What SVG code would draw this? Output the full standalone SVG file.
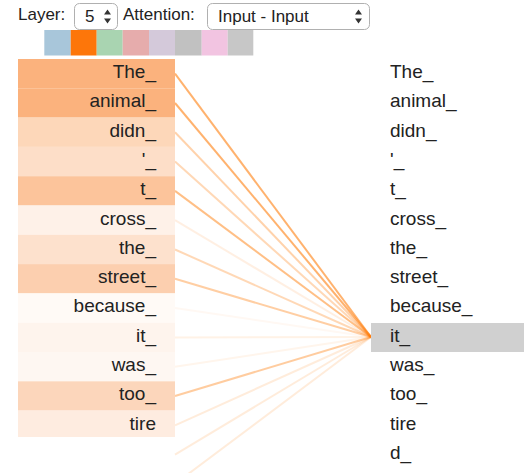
<svg xmlns="http://www.w3.org/2000/svg" width="524" height="473" viewBox="0 0 524 473">
<style>
text{font-family:"Liberation Sans",Arial,Helvetica,sans-serif;fill:#222;}
.tok{font-size:19px;}
.l{text-anchor:end;}
.ui{font-size:17px;}
.sel{fill:#fff;stroke:#b0b0b0;stroke-width:1;}
.att{stroke:#ff7f0e;stroke-width:2;fill:none;}
</style>
<rect width="524" height="473" fill="#fff"/>
<g id="controls">
  <text class="ui" x="18" y="20">Layer:</text>
  <rect class="sel" x="74.5" y="3.5" width="43" height="26" rx="5"/>
  <text class="ui" x="85" y="22">5</text>
  <path d="M104 14.5l3.5-5 3.5 5z M104 18.5l3.5 5 3.5-5z" fill="#333"/>
  <text class="ui" x="123" y="20">Attention:</text>
  <rect class="sel" x="207.5" y="3.5" width="162" height="26" rx="5"/>
  <text class="ui" x="218" y="22">Input - Input</text>
  <path d="M355 14.5l3.5-5 3.5 5z M355 18.5l3.5 5 3.5-5z" fill="#333"/>
</g>
<g id="swatches">
  <rect x="44.3" y="30" width="26.4" height="25.5" fill="#a8c6da"/>
  <rect x="70.7" y="30" width="26" height="25.5" fill="#fd760a"/>
  <rect x="96.7" y="30" width="26" height="25.5" fill="#a9d4b1"/>
  <rect x="122.7" y="30" width="26.3" height="25.5" fill="#e6acac"/>
  <rect x="149" y="30" width="26" height="25.5" fill="#d4c9da"/>
  <rect x="175" y="30" width="26.7" height="25.5" fill="#c1c1c1"/>
  <rect x="201.7" y="30" width="26" height="25.5" fill="#f2c4e1"/>
  <rect x="227.7" y="30" width="25.6" height="25.5" fill="#c7c7c7"/>
</g>
<g id="connectors">
  <line class="att" x1="175" y1="73.7" x2="371" y2="337" stroke-opacity="0.6"/>
  <line class="att" x1="175" y1="103" x2="371" y2="337" stroke-opacity="0.6"/>
  <line class="att" x1="175" y1="132.3" x2="371" y2="337" stroke-opacity="0.35"/>
  <line class="att" x1="175" y1="161.6" x2="371" y2="337" stroke-opacity="0.3"/>
  <line class="att" x1="175" y1="190.9" x2="371" y2="337" stroke-opacity="0.5"/>
  <line class="att" x1="175" y1="220.2" x2="371" y2="337" stroke-opacity="0.12"/>
  <line class="att" x1="175" y1="249.5" x2="371" y2="337" stroke-opacity="0.3"/>
  <line class="att" x1="175" y1="278.8" x2="371" y2="337" stroke-opacity="0.38"/>
  <line class="att" x1="175" y1="308.1" x2="371" y2="337" stroke-opacity="0.05"/>
  <line class="att" x1="175" y1="337.4" x2="371" y2="337" stroke-opacity="0.1"/>
  <line class="att" x1="175" y1="366.7" x2="371" y2="337" stroke-opacity="0.08"/>
  <line class="att" x1="175" y1="396" x2="371" y2="337" stroke-opacity="0.4"/>
  <line class="att" x1="175" y1="425.3" x2="371" y2="337" stroke-opacity="0.15"/>
  <line class="att" x1="175" y1="454.6" x2="371" y2="337" stroke-opacity="0.15"/>
  <line class="att" x1="175" y1="483.9" x2="371" y2="337" stroke-opacity="0.15"/>
</g>
<g id="left">
  <g id="l0"><rect x="18" y="59" width="157" height="29.3" fill="#fbb27d"/><text class="tok l" x="156" y="78">The_</text></g>
  <g id="l1"><rect x="18" y="88.3" width="157" height="29.3" fill="#fbb27d"/><text class="tok l" x="156" y="107.3">animal_</text></g>
  <g id="l2"><rect x="18" y="117.6" width="157" height="29.3" fill="#fdd7b9"/><text class="tok l" x="156" y="136.6">didn_</text></g>
  <g id="l3"><rect x="18" y="146.9" width="157" height="29.3" fill="#fddec8"/><text class="tok l" x="156" y="165.9">'_</text></g>
  <g id="l4"><rect x="18" y="176.2" width="157" height="29.3" fill="#fcc49b"/><text class="tok l" x="156" y="195.2">t_</text></g>
  <g id="l5"><rect x="18" y="205.5" width="157" height="29.3" fill="#fef1e8"/><text class="tok l" x="156" y="224.5">cross_</text></g>
  <g id="l6"><rect x="18" y="234.8" width="157" height="29.3" fill="#fde1cd"/><text class="tok l" x="156" y="253.8">the_</text></g>
  <g id="l7"><rect x="18" y="264.1" width="157" height="29.3" fill="#fccfaf"/><text class="tok l" x="156" y="283.1">street_</text></g>
  <g id="l8"><rect x="18" y="293.4" width="157" height="29.3" fill="#fffaf6"/><text class="tok l" x="156" y="312.4">because_</text></g>
  <g id="l9"><rect x="18" y="322.7" width="157" height="29.3" fill="#fef4ed"/><text class="tok l" x="156" y="341.7">it_</text></g>
  <g id="l10"><rect x="18" y="352" width="157" height="29.3" fill="#fef7f2"/><text class="tok l" x="156" y="371">was_</text></g>
  <g id="l11"><rect x="18" y="381.3" width="157" height="29.3" fill="#fcd6bb"/><text class="tok l" x="156" y="400.3">too_</text></g>
  <g id="l12"><rect x="18" y="410.6" width="157" height="26.4" fill="#feece0"/><text class="tok l" x="156" y="429.6">tire</text></g>
</g>
<g id="right">
  <rect id="hl" x="371" y="323" width="153" height="29" fill="#d0d0d0"/>
  <text class="tok" x="390" y="78">The_</text>
  <text class="tok" x="390" y="107.3">animal_</text>
  <text class="tok" x="390" y="136.6">didn_</text>
  <text class="tok" x="390" y="165.9">'_</text>
  <text class="tok" x="390" y="195.2">t_</text>
  <text class="tok" x="390" y="224.5">cross_</text>
  <text class="tok" x="390" y="253.8">the_</text>
  <text class="tok" x="390" y="283.1">street_</text>
  <text class="tok" x="390" y="312.4">because_</text>
  <text class="tok" x="390" y="341.7">it_</text>
  <text class="tok" x="390" y="371">was_</text>
  <text class="tok" x="390" y="400.3">too_</text>
  <text class="tok" x="390" y="429.6">tire</text>
  <text class="tok" x="390" y="458.9">d_</text>
</g>
</svg>
